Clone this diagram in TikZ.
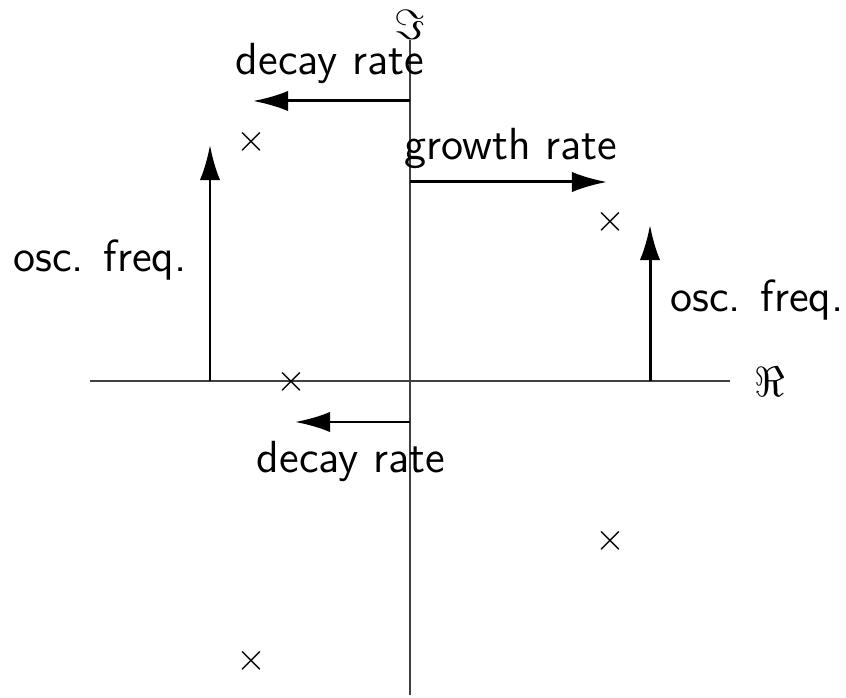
\documentclass[tikz,border=0pt]{standalone}
\usetikzlibrary{arrows.meta}
\tikzset{
    axis/.style={
        draw=black!75,
        line width=0.4pt
    },
    rate/.style={
        -{Latex[length=10pt,width=5.8pt]},
        line width=0.85pt,
        black
    },
    ratetext/.style={
        font=\fontsize{12.8}{15}\selectfont\sffamily,
        anchor=base,
        inner sep=0pt
    },
    pole/.style={
        font=\fontsize{11}{13}\selectfont,
        inner sep=0pt
    },
    axtext/.style={
        font=\fontsize{13}{15}\selectfont,
        inner sep=0pt
    }
}
\begin{document}
\begin{tikzpicture}[x=0.01cm, y=-0.01cm]
        \useasboundingbox (0,0) rectangle (846,698);

        % Axes
        \coordinate (xl) at (90,381);
        \coordinate (xr) at (730,381);
        \coordinate (yt) at (410,40);
        \coordinate (yb) at (410,695);
        \draw[axis] (xl) -- (xr);
        \draw[axis] (yt) -- (yb);
        \node[axtext] (re) at (770,382) {$\Re$};
        \node[axtext] (im) at (410,25) {$\Im$};

        % Poles
        \node[pole] (p1) at (251,142) {$\times$};
        \node[pole] (p2) at (610,222) {$\times$};
        \node[pole] (p3) at (291,382) {$\times$};
        \node[pole] (p4) at (610,541) {$\times$};
        \node[pole] (p5) at (251,661) {$\times$};

        % Upper decay rate
        \coordinate (d1s) at (410,101);
        \coordinate (d1e) at (253,101);
        \draw[rate] (d1s) -- (d1e);
        \node[ratetext] (d1) at (330,75) {decay rate};

        % Growth rate
        \coordinate (gs) at (410,182);
        \coordinate (ge) at (607,182);
        \draw[rate] (gs) -- (ge);
        \node[ratetext] (g) at (511,160) {growth rate};

        % Left oscillation frequency
        \coordinate (f1s) at (210,381);
        \coordinate (f1e) at (210,145);
        \draw[rate] (f1s) -- (f1e);
        \node[ratetext] (f1) at (100,272) {osc. freq.};

        % Right oscillation frequency
        \coordinate (f2s) at (650,381);
        \coordinate (f2e) at (650,225);
        \draw[rate] (f2s) -- (f2e);
        \node[ratetext] (f2) at (757,312) {osc. freq.};

        % Lower decay rate
        \coordinate (d2s) at (410,422);
        \coordinate (d2e) at (295,422);
        \draw[rate] (d2s) -- (d2e);
        \node[ratetext] (d2) at (351,473) {decay rate};
    \end{tikzpicture}
\end{document}
